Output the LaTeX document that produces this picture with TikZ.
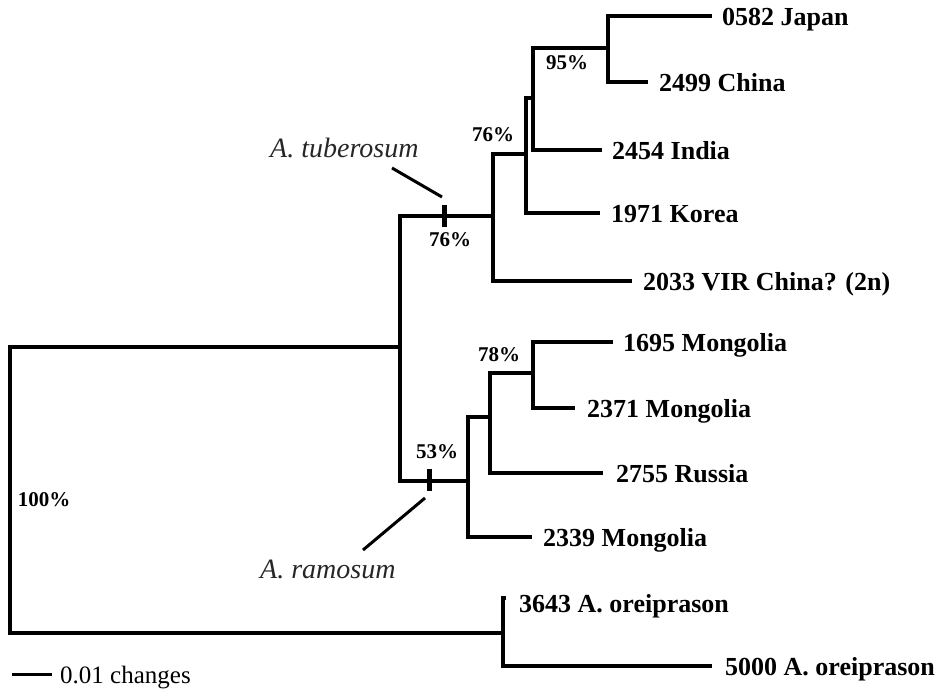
\documentclass[tikz,border=0pt]{standalone}
\usepackage{fontspec}
\setmainfont{Liberation Serif}
\begin{document}
\begin{tikzpicture}[x=1pt,y=-1pt,
  br/.style={line width=3.4pt, line join=miter},
  leaf/.style={anchor=base west, inner sep=0pt, font=\fontsize{26}{30}\selectfont\bfseries},
  pct/.style={anchor=center, inner sep=0pt, font=\fontsize{21}{25}\selectfont\bfseries},
  spec/.style={anchor=base west, inner sep=0pt, text=black!85, font=\fontsize{28}{32}\selectfont\itshape},
  tickmark/.style={line width=5pt},
  leader/.style={line width=3pt}]
\useasboundingbox (0,0) rectangle (941,696);
% internal nodes
\coordinate (root) at (10,490);
\coordinate (n1) at (400,347);
\coordinate (tub) at (493,216);
\coordinate (n3) at (526,154);
\coordinate (n4) at (533,98);
\coordinate (n5) at (608,48);
\coordinate (ram) at (468,481);
\coordinate (n7) at (490,417);
\coordinate (n8) at (533,373);
\coordinate (ore) at (503,633);
% tips
\coordinate (japan) at (712,16);
\coordinate (china) at (648,82);
\coordinate (india) at (602,150);
\coordinate (korea) at (600,213);
\coordinate (vir) at (632,281);
\coordinate (mA) at (613,342);
\coordinate (mB) at (575,408);
\coordinate (russia) at (603,473);
\coordinate (mC) at (532,537);
\coordinate (oA) at (506,598);
\coordinate (oB) at (712,666);
% branches
\draw[br] (root) |- (n1);
\draw[br] (root) |- (ore);
\draw[br] (n1) |- (tub);
\draw[br] (n1) |- (ram);
\draw[br] (tub) |- (n3);
\draw[br] (tub) |- (vir);
\draw[br] (n3) |- (n4);
\draw[br] (n3) |- (korea);
\draw[br] (n4) |- (n5);
\draw[br] (n4) |- (india);
\draw[br] (n5) |- (japan);
\draw[br] (n5) |- (china);
\draw[br] (ram) |- (n7);
\draw[br] (ram) |- (mC);
\draw[br] (n7) |- (n8);
\draw[br] (n7) |- (russia);
\draw[br] (n8) |- (mA);
\draw[br] (n8) |- (mB);
\draw[br] (ore) |- (oA);
\draw[br] (ore) |- (oB);
% leaf labels
\node[leaf] (Ljapan) at (722,25) {0582 Japan};
\node[leaf] (Lchina) at (659,91) {2499 China};
\node[leaf] (Lindia) at (612,159) {2454 India};
\node[leaf] (Lkorea) at (611,222) {1971 Korea};
\node[leaf] (Lvir) at (643,290) {2033 VIR China? (2n)};
\node[leaf] (LmA) at (623,351) {1695 Mongolia};
\node[leaf] (LmB) at (587,417) {2371 Mongolia};
\node[leaf] (Lrussia) at (616,482) {2755 Russia};
\node[leaf] (LmC) at (543,546) {2339 Mongolia};
\node[leaf] (LoA) at (519,612) {3643 A. oreiprason};
\node[leaf] (LoB) at (725,675) {5000 A. oreiprason};
% support values
\node[pct] (p95) at (567,63) {95\%};
\node[pct] (p76a) at (493,135) {76\%};
\node[pct] (p76b) at (450,240) {76\%};
\node[pct] (p53) at (437,452) {53\%};
\node[pct] (p78) at (499,355) {78\%};
\node[pct] (p100) at (44,500) {100\%};
% clade marks
\coordinate (tubT1) at (444,205);
\coordinate (tubT2) at (444,227);
\coordinate (ramT1) at (429,469);
\coordinate (ramT2) at (429,491);
\draw[tickmark] (tubT1) -- (tubT2);
\draw[tickmark] (ramT1) -- (ramT2);
\node[spec] (Stub) at (270,157) {A. tuberosum};
\node[spec] (Sram) at (260,578) {A. ramosum};
\coordinate (tubL1) at (392,168);
\coordinate (tubL2) at (442,197);
\coordinate (ramL1) at (425,498);
\coordinate (ramL2) at (363,550);
\draw[leader] (tubL1) -- (tubL2);
\draw[leader] (ramL1) -- (ramL2);
% scale bar
\coordinate (sbA) at (12,674);
\coordinate (sbB) at (52,674);
\draw[line width=3pt] (sbA) -- (sbB);
\node[anchor=base west, inner sep=0pt, font=\fontsize{25}{29}\selectfont] (sbT) at (60,683) {0.01 changes};
\end{tikzpicture}
\end{document}
